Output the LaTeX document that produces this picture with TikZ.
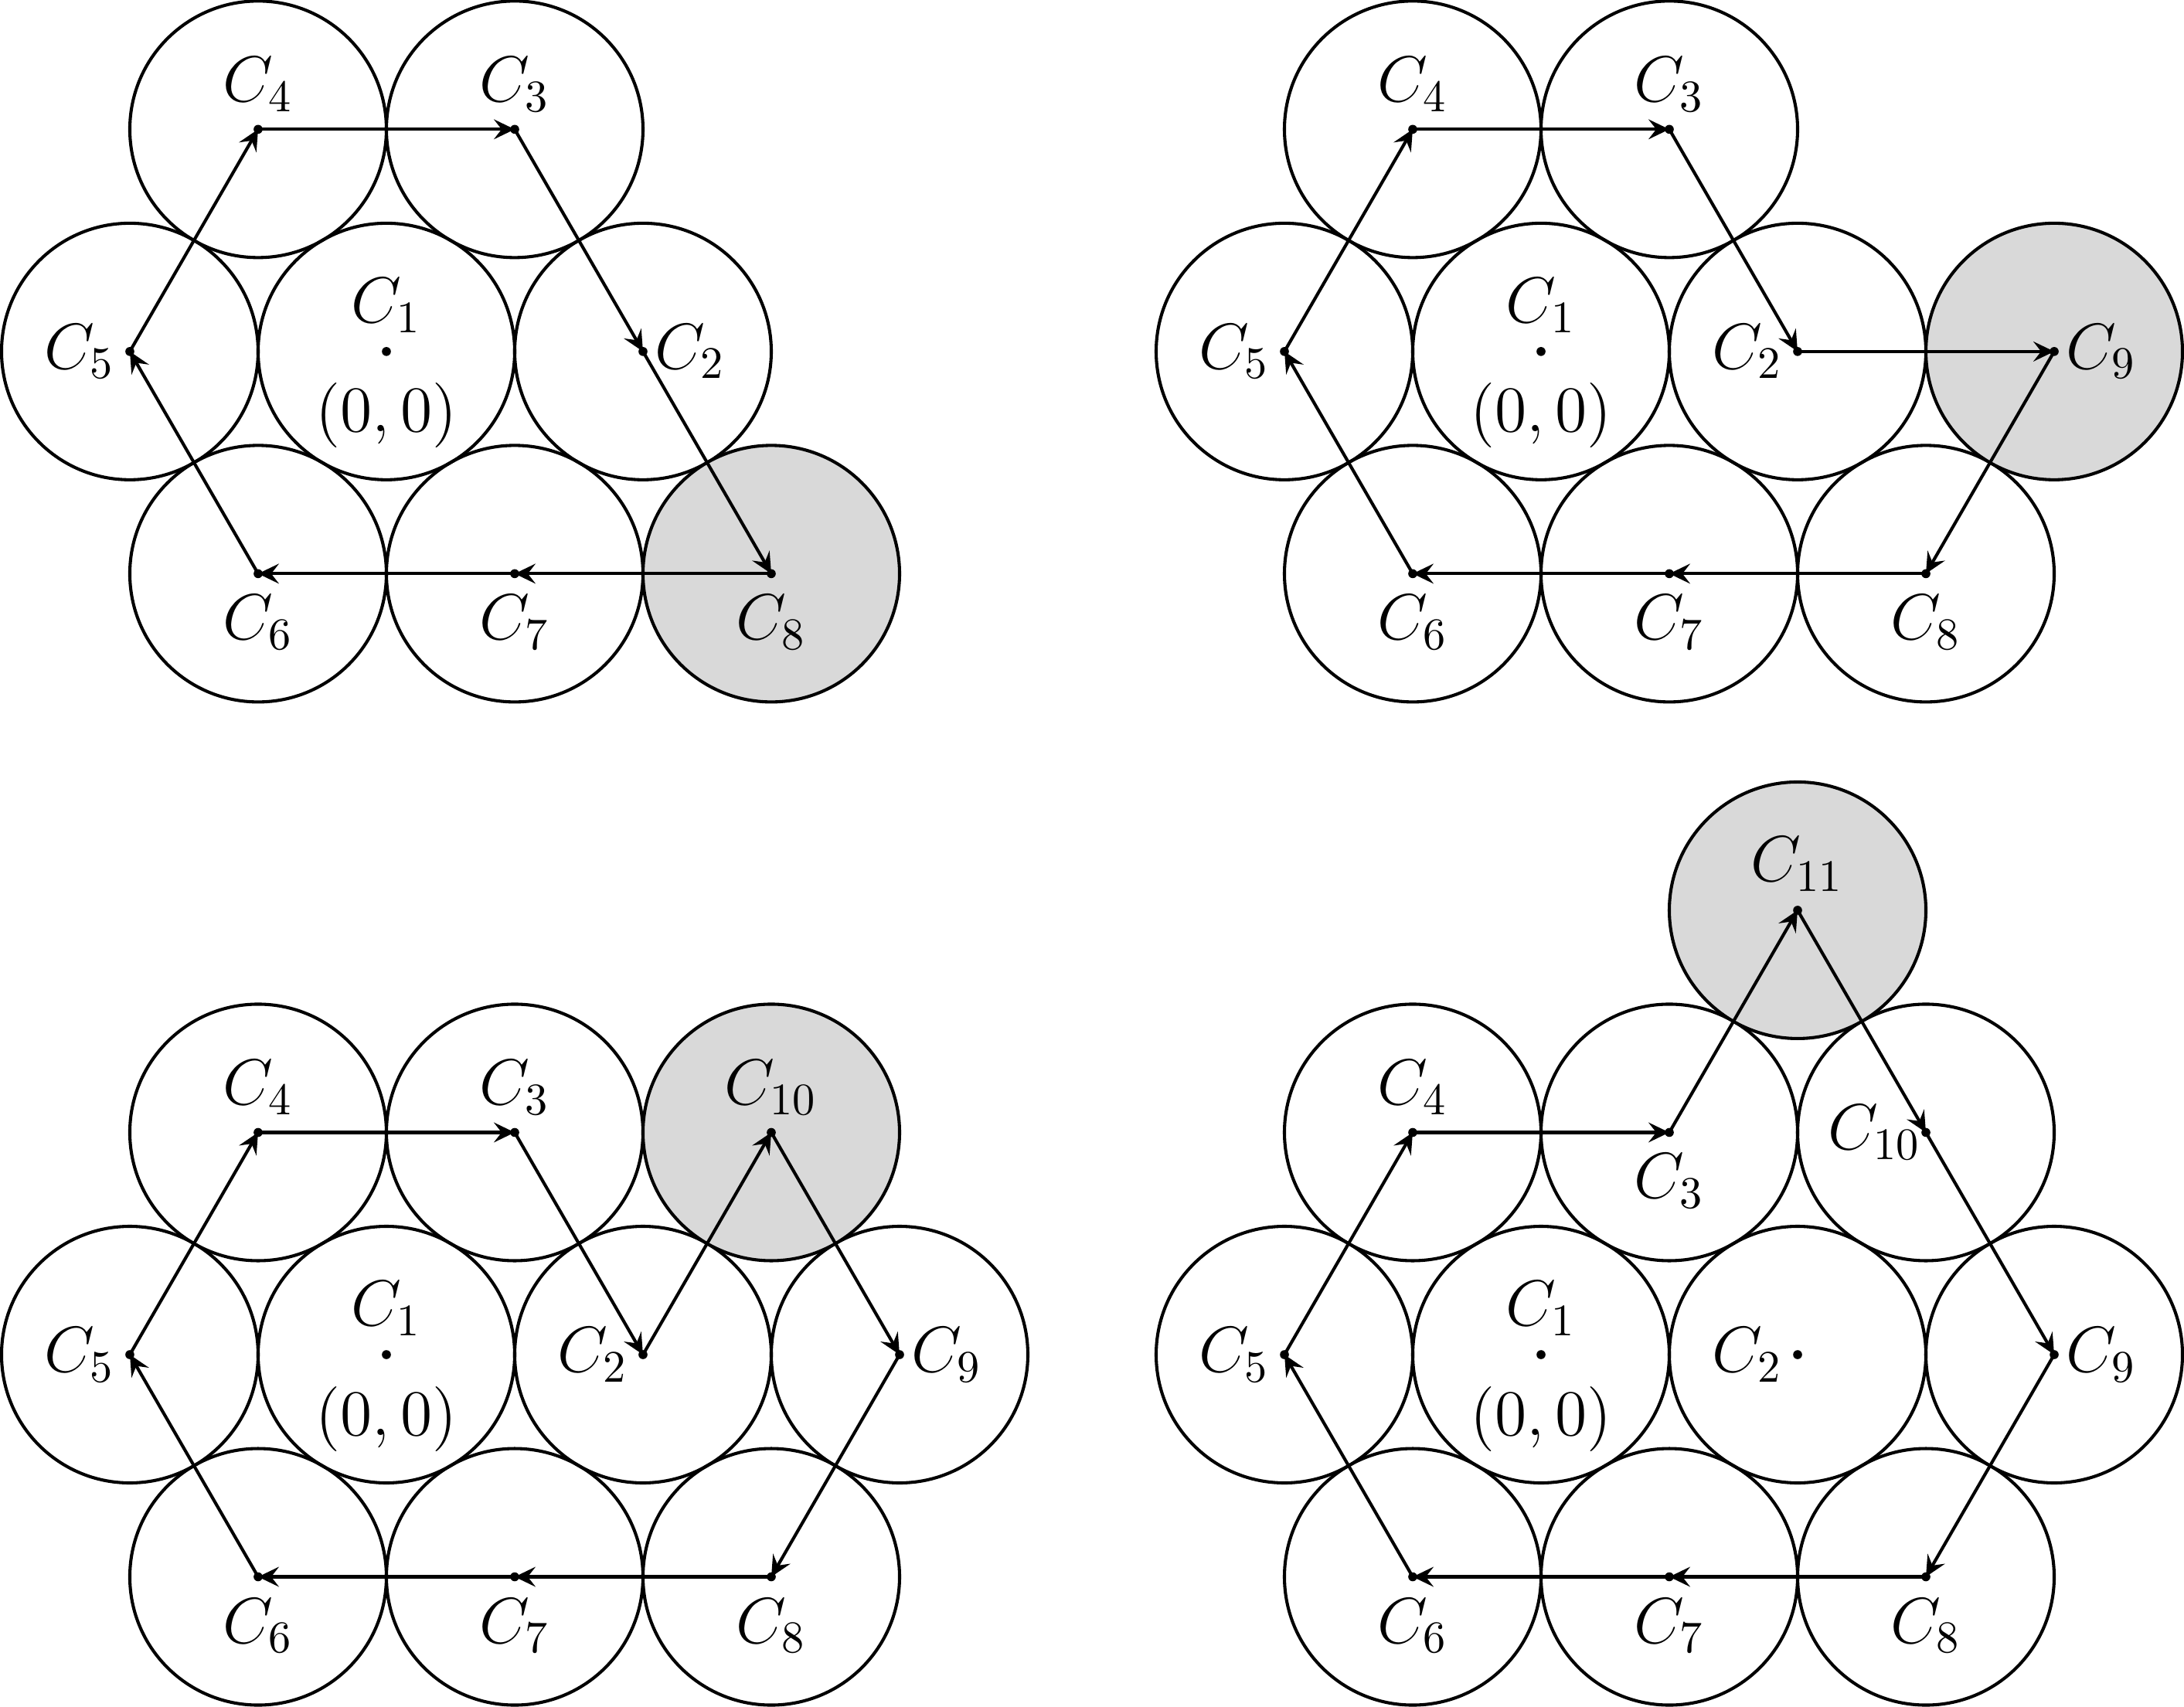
\documentclass[tikz,border=0pt]{standalone}
\usetikzlibrary{arrows.meta}
\begin{document}
\begin{tikzpicture}[
  disc/.style={draw, line width=0.7pt},
  hl/.style={disc, fill=black!15},
  walk/.style={line width=0.7pt, -{Stealth[length=4.6pt,width=4.4pt,inset=1.7pt]}},
  lab/.style={inner sep=0pt, font=\Large},
]
\def\h{1.7320508}
\def\ab{0.35}\def\be{-0.38}\def\le{-0.39}\def\ri{0.37}
\useasboundingbox (-3.012,-10.567) rectangle (14.012,2.740);
% ---------- panel a (top left) ----------
\begin{scope}
\coordinate (a1) at (0,0);   \coordinate (a2) at (2,0);
\coordinate (a3) at (1,\h);  \coordinate (a4) at (-1,\h);
\coordinate (a5) at (-2,0);  \coordinate (a6) at (-1,-\h);
\coordinate (a7) at (1,-\h); \coordinate (a8) at (3,-\h);
\foreach \i in {1,...,7} \path[disc] (a\i) circle (1);
\path[hl] (a8) circle (1);
\draw[walk] (a4) -- (a3);
\draw[walk] (a3) -- (a2);
\draw[walk] (a2) -- (a8);
\draw[walk] (a8) -- (a7);
\draw[walk] (a7) -- (a6);
\draw[walk] (a6) -- (a5);
\draw[walk] (a5) -- (a4);
\foreach \i in {1,...,8} \fill (a\i) circle (0.035);
\node[lab] (la1) at ([shift={(0,0.36)}]a1) {$C_1$};
\node[lab] (lo1) at ([shift={(0,-0.50)}]a1) {$(0, 0)$};
\node[lab] (la2) at ([shift={(\ri,0)}]a2) {$C_2$};
\node[lab] (la3) at ([shift={(0,\ab)}]a3) {$C_3$};
\node[lab] (la4) at ([shift={(0,\ab)}]a4) {$C_4$};
\node[lab] (la5) at ([shift={(\le,0)}]a5) {$C_5$};
\node[lab] (la6) at ([shift={(0,\be)}]a6) {$C_6$};
\node[lab] (la7) at ([shift={(0,\be)}]a7) {$C_7$};
\node[lab] (la8) at ([shift={(0,\be)}]a8) {$C_8$};
\end{scope}
% ---------- panel b (top right) ----------
\begin{scope}[shift={(9,0)}]
\coordinate (b1) at (0,0);   \coordinate (b2) at (2,0);
\coordinate (b3) at (1,\h);  \coordinate (b4) at (-1,\h);
\coordinate (b5) at (-2,0);  \coordinate (b6) at (-1,-\h);
\coordinate (b7) at (1,-\h); \coordinate (b8) at (3,-\h);
\coordinate (b9) at (4,0);
\foreach \i in {1,...,8} \path[disc] (b\i) circle (1);
\path[hl] (b9) circle (1);
\draw[walk] (b4) -- (b3);
\draw[walk] (b3) -- (b2);
\draw[walk] (b2) -- (b9);
\draw[walk] (b9) -- (b8);
\draw[walk] (b8) -- (b7);
\draw[walk] (b7) -- (b6);
\draw[walk] (b6) -- (b5);
\draw[walk] (b5) -- (b4);
\foreach \i in {1,...,9} \fill (b\i) circle (0.035);
\node[lab] (lb1) at ([shift={(0,0.36)}]b1) {$C_1$};
\node[lab] (lo2) at ([shift={(0,-0.50)}]b1) {$(0, 0)$};
\node[lab] (lb2) at ([shift={(\le,0)}]b2) {$C_2$};
\node[lab] (lb3) at ([shift={(0,\ab)}]b3) {$C_3$};
\node[lab] (lb4) at ([shift={(0,\ab)}]b4) {$C_4$};
\node[lab] (lb5) at ([shift={(\le,0)}]b5) {$C_5$};
\node[lab] (lb6) at ([shift={(0,\be)}]b6) {$C_6$};
\node[lab] (lb7) at ([shift={(0,\be)}]b7) {$C_7$};
\node[lab] (lb8) at ([shift={(0,\be)}]b8) {$C_8$};
\node[lab] (lb9) at ([shift={(\ri,0)}]b9) {$C_9$};
\end{scope}
% ---------- panel c (bottom left) ----------
\begin{scope}[shift={(0,-7.82)}]
\coordinate (c1) at (0,0);   \coordinate (c2) at (2,0);
\coordinate (c3) at (1,\h);  \coordinate (c4) at (-1,\h);
\coordinate (c5) at (-2,0);  \coordinate (c6) at (-1,-\h);
\coordinate (c7) at (1,-\h); \coordinate (c8) at (3,-\h);
\coordinate (c9) at (4,0);   \coordinate (c10) at (3,\h);
\foreach \i in {1,...,9} \path[disc] (c\i) circle (1);
\path[hl] (c10) circle (1);
\draw[walk] (c4) -- (c3);
\draw[walk] (c3) -- (c2);
\draw[walk] (c2) -- (c10);
\draw[walk] (c10) -- (c9);
\draw[walk] (c9) -- (c8);
\draw[walk] (c8) -- (c7);
\draw[walk] (c7) -- (c6);
\draw[walk] (c6) -- (c5);
\draw[walk] (c5) -- (c4);
\foreach \i in {1,...,10} \fill (c\i) circle (0.035);
\node[lab] (lc1) at ([shift={(0,0.36)}]c1) {$C_1$};
\node[lab] (lo3) at ([shift={(0,-0.50)}]c1) {$(0, 0)$};
\node[lab] (lc2) at ([shift={(\le,0)}]c2) {$C_2$};
\node[lab] (lc3) at ([shift={(0,\ab)}]c3) {$C_3$};
\node[lab] (lc4) at ([shift={(0,\ab)}]c4) {$C_4$};
\node[lab] (lc5) at ([shift={(\le,0)}]c5) {$C_5$};
\node[lab] (lc6) at ([shift={(0,\be)}]c6) {$C_6$};
\node[lab] (lc7) at ([shift={(0,\be)}]c7) {$C_7$};
\node[lab] (lc8) at ([shift={(0,\be)}]c8) {$C_8$};
\node[lab] (lc9) at ([shift={(\ri,0)}]c9) {$C_9$};
\node[lab] (lc10) at ([shift={(0,\ab)}]c10) {$C_{10}$};
\end{scope}
% ---------- panel d (bottom right) ----------
\begin{scope}[shift={(9,-7.82)}]
\coordinate (d1) at (0,0);   \coordinate (d2) at (2,0);
\coordinate (d3) at (1,\h);  \coordinate (d4) at (-1,\h);
\coordinate (d5) at (-2,0);  \coordinate (d6) at (-1,-\h);
\coordinate (d7) at (1,-\h); \coordinate (d8) at (3,-\h);
\coordinate (d9) at (4,0);   \coordinate (d10) at (3,\h);
\coordinate (d11) at (2,2*\h);
\foreach \i in {1,...,10} \path[disc] (d\i) circle (1);
\path[hl] (d11) circle (1);
\draw[walk] (d4) -- (d3);
\draw[walk] (d3) -- (d11);
\draw[walk] (d11) -- (d10);
\draw[walk] (d10) -- (d9);
\draw[walk] (d9) -- (d8);
\draw[walk] (d8) -- (d7);
\draw[walk] (d7) -- (d6);
\draw[walk] (d6) -- (d5);
\draw[walk] (d5) -- (d4);
\foreach \i in {1,...,11} \fill (d\i) circle (0.035);
\node[lab] (ld1) at ([shift={(0,0.36)}]d1) {$C_1$};
\node[lab] (lo4) at ([shift={(0,-0.50)}]d1) {$(0, 0)$};
\node[lab] (ld2) at ([shift={(\le,0)}]d2) {$C_2$};
\node[lab] (ld3) at ([shift={(0,\be)}]d3) {$C_3$};
\node[lab] (ld4) at ([shift={(0,\ab)}]d4) {$C_4$};
\node[lab] (ld5) at ([shift={(\le,0)}]d5) {$C_5$};
\node[lab] (ld6) at ([shift={(0,\be)}]d6) {$C_6$};
\node[lab] (ld7) at ([shift={(0,\be)}]d7) {$C_7$};
\node[lab] (ld8) at ([shift={(0,\be)}]d8) {$C_8$};
\node[lab] (ld9) at ([shift={(\ri,0)}]d9) {$C_9$};
\node[lab] (ld10) at ([shift={(-0.40,0)}]d10) {$C_{10}$};
\node[lab] (ld11) at ([shift={(0,0.36)}]d11) {$C_{11}$};
\end{scope}
\end{tikzpicture}
\end{document}
